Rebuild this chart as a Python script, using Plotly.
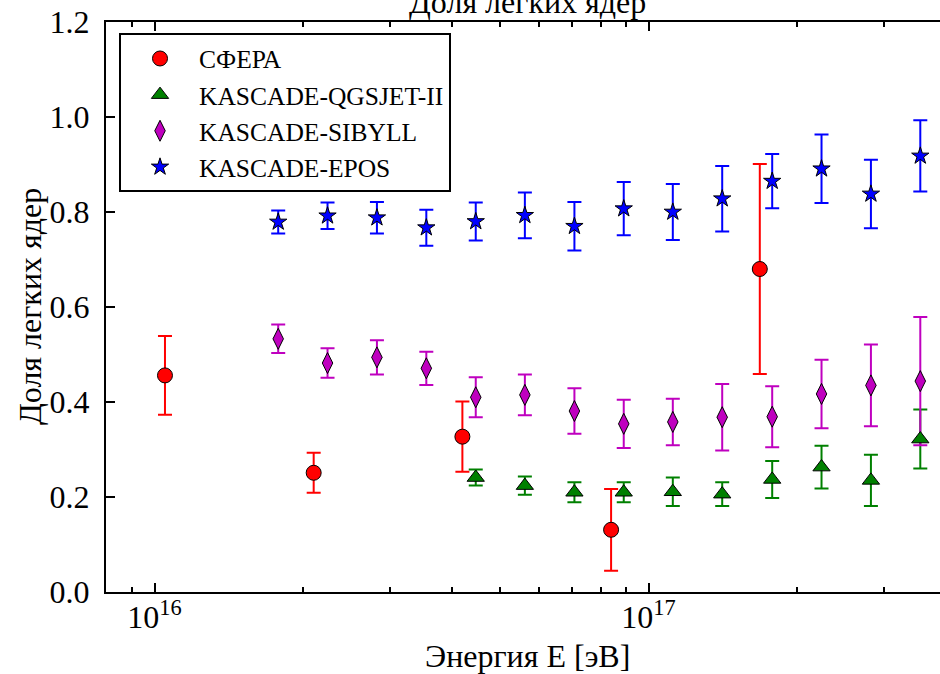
import plotly.graph_objects as go

# ---------------- data ----------------
sfera_E = [1.05e16, 2.10e16, 4.20e16, 8.40e16, 1.68e17]
sfera_val = [0.456, 0.251, 0.327, 0.131, 0.680]
sfera_err = [0.083, 0.042, 0.074, 0.086, 0.221]

kascade_E = [1.78e16, 2.24e16, 2.82e16, 3.55e16, 4.47e16, 5.62e16, 7.08e16,
             8.91e16, 1.12e17, 1.41e17, 1.78e17, 2.24e17, 2.82e17, 3.55e17]

qgsjet_E = kascade_E[4:]
qgsjet_val = [0.241, 0.224, 0.210, 0.210, 0.211, 0.206, 0.237, 0.263, 0.235, 0.322]
qgsjet_err = [0.017, 0.019, 0.021, 0.021, 0.030, 0.025, 0.039, 0.045, 0.054, 0.062]

sibyll_val = [0.533, 0.482, 0.494, 0.471, 0.410, 0.415, 0.381, 0.354, 0.358,
              0.368, 0.369, 0.417, 0.435, 0.444]
sibyll_err = [0.030, 0.031, 0.036, 0.035, 0.042, 0.043, 0.048, 0.051, 0.049,
              0.070, 0.064, 0.072, 0.086, 0.135]

epos_val = [0.779, 0.792, 0.788, 0.767, 0.780, 0.793, 0.770, 0.807, 0.800,
            0.828, 0.865, 0.891, 0.838, 0.918]
epos_err = [0.024, 0.028, 0.033, 0.038, 0.040, 0.048, 0.051, 0.056, 0.059,
            0.069, 0.057, 0.072, 0.072, 0.075]

series_names = ["СФЕРА", "KASCADE-QGSJET-II", "KASCADE-SIBYLL", "KASCADE-EPOS"]
y_ticks = [0.0, 0.2, 0.4, 0.6, 0.8, 1.0, 1.2]
x_major = [1e16, 1e17]
x_major_text = ["10<sup>16</sup>", "10<sup>17</sup>"]
x_minor = [9e15, 2e16, 3e16, 4e16, 5e16, 6e16, 7e16, 8e16, 9e16, 2e17, 3e17]

FONT = "Liberation Serif"

series = [
    (series_names[0], sfera_E, sfera_val, sfera_err, "#ff0000", "circle", 15),
    (series_names[1], qgsjet_E, qgsjet_val, qgsjet_err, "#008000", "triangle-up", 15),
    (series_names[2], kascade_E, sibyll_val, sibyll_err, "#bf00bf", "diamond-tall", 15),
    (series_names[3], kascade_E, epos_val, epos_err, "#0000ff", "star", 13),
]

fig = go.Figure()

# error bars first (below all markers)
for name, xs, ys, es, col, sym, sz in series:
    fig.add_trace(go.Scatter(
        x=xs, y=ys, mode="markers", showlegend=False, hoverinfo="skip",
        marker=dict(size=2, opacity=0),
        error_y=dict(type="data", array=es, visible=True, color=col,
                     thickness=2, width=7),
    ))

# markers
for i, (name, xs, ys, es, col, sym, sz) in enumerate(series):
    fig.add_trace(go.Scatter(
        x=xs, y=ys, mode="markers", name=name,
        marker=dict(symbol=sym, size=sz, color=col,
                    line=dict(color="black", width=1)),
    ))

fig.update_layout(
    width=940, height=674,
    margin=dict(l=106, r=0, t=22, b=82),
    paper_bgcolor="white", plot_bgcolor="white",
    font=dict(family=FONT, color="black", size=28),
    showlegend=True,
    legend=dict(
        x=0.0156, y=0.9800, xanchor="left", yanchor="top",
        bgcolor="white", bordercolor="black", borderwidth=2,
        font=dict(family=FONT, size=25.5, color="black"),
        itemwidth=68,
    ),
    xaxis=dict(
        type="log", range=[15.9018, 17.5901],
        showline=True, linecolor="black", linewidth=2, mirror="allticks",
        ticks="inside", ticklen=9, tickwidth=1.5, tickcolor="black",
        tickvals=x_major, ticktext=x_major_text,
        tickfont=dict(family=FONT, size=32),
        ticklabelstandoff=-4,
        showgrid=False, zeroline=False,
        minor=dict(tickvals=x_minor, ticks="inside", ticklen=5,
                   tickwidth=1.5, tickcolor="black", showgrid=False),
    ),
    yaxis=dict(
        range=[0, 1.2],
        showline=True, linecolor="black", linewidth=2, mirror=False,
        ticks="inside", ticklen=9, tickwidth=1.5, tickcolor="black",
        tickvals=y_ticks, tickformat=".1f",
        tickfont=dict(family=FONT, size=32),
        ticklabelstandoff=8,
        showgrid=False, zeroline=False,
    ),
    annotations=[
        dict(text="Доля легких ядер", x=0.5048, y=1, xref="paper", yref="paper",
             xanchor="center", yanchor="bottom", showarrow=False,
             font=dict(family=FONT, size=32)),
        dict(text="Энергия E [эВ]", x=0.5048, y=0, xref="paper", yref="paper",
             xanchor="center", yanchor="top", yshift=-44, showarrow=False,
             font=dict(family=FONT, size=32)),
        dict(text="Доля легких ядер", x=-0.0911, y=0.5, xref="paper", yref="paper",
             xanchor="center", yanchor="middle", textangle=-90, showarrow=False,
             font=dict(family=FONT, size=32)),
    ],
)

fig.write_html("out.html")
